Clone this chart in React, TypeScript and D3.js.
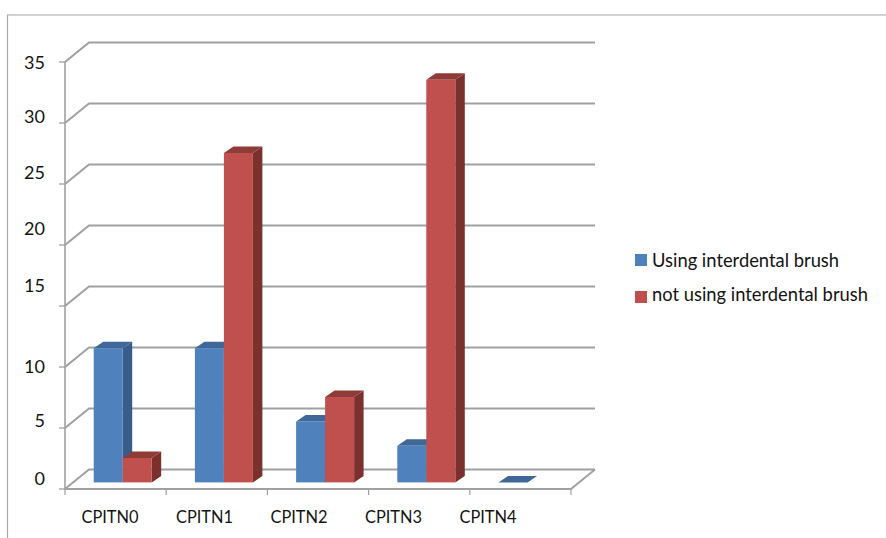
import React from "react";
import * as d3 from "d3";

const categories = ["CPITN0", "CPITN1", "CPITN2", "CPITN3", "CPITN4"];
const seriesNames = ["Using interdental brush", "not using interdental brush"];
const usingBrush = [11, 11, 5, 3, 0];
const notUsingBrush = [2, 27, 7, 33, null];
const yTicks = [0, 5, 10, 15, 20, 25, 30, 35];

// Layout only: the reference's tick labels are not aligned with their ticks.
const tickLabelCentres: Record<number, number> = { 0: 478.5, 5: 420.5, 10: 366, 15: 285, 20: 228, 25: 172, 30: 116, 35: 62 };

const frontColors = ["#4f81bd", "#c0504d"];
const sideColors = ["#385d8a", "#7c302e"];
const topColors = ["#3f6797", "#8f3b38"];
const GRID = "#a0a0a0";
const TEXT = "#141414";
const FONT = "Lato, Carlito, Calibri, sans-serif";

const x = d3.scaleBand<string>().domain(categories).range([65, 571]);
const y = d3.scaleLinear().domain([0, 35]).range([489, 62]);
const seriesX = d3.scaleBand<string>().domain(seriesNames).range([28.7, 86.7]);
const labelX = d3.scalePoint<string>().domain(categories).range([110, 488]);

const depthX = 24;
const depthY = -19.5;
const barLift = -6.6;
const barDepthX = 9.5;
const barDepthY = -6.5;

const poly = (pts: number[][]) => pts.map((p) => p.join(",")).join(" ");

export default function App() {
  const series = [usingBrush, notUsingBrush];
  const x0 = x.range()[0];
  const x1 = x.range()[1];
  const unit = y(0) - y(1);
  return (
    <svg
      width={886}
      height={538}
      style={{ position: "absolute", left: 0, top: 0, background: "#fff", fontFamily: FONT }}
    >
      <path d="M7.5,538 V15 H886" fill="none" stroke="#a8a8a8" strokeWidth={1.2} />

      {yTicks.map((t) => (
        <g key={t}>
          <polyline
            points={poly([[x0, y(t)], [x0 + depthX, y(t) + depthY], [x1 + depthX, y(t) + depthY]])}
            fill="none"
            stroke={GRID}
            strokeWidth={2}
          />
          <line x1={x0 - 6} x2={x0} y1={y(t)} y2={y(t)} stroke={GRID} strokeWidth={1.3} />
          <text x={45} y={tickLabelCentres[t] + 6.5} textAnchor="end" fontSize={18} fill={TEXT}>
            {t}
          </text>
        </g>
      ))}

      <line x1={x0} x2={x0} y1={y(35)} y2={y(0)} stroke={GRID} strokeWidth={1.6} />
      <line x1={x0} x2={x1} y1={y(0)} y2={y(0)} stroke={GRID} strokeWidth={2} />
      <line x1={x1} x2={x1 + depthX} y1={y(0)} y2={y(0) + depthY} stroke={GRID} strokeWidth={2} />
      {[...categories.map((c) => x(c) as number), x1].map((t) => (
        <line key={t} x1={t} x2={t} y1={y(0)} y2={y(0) + 6} stroke={GRID} strokeWidth={1.2} />
      ))}

      {categories.map((c, i) =>
        series.map((vals, s) => {
          const v = vals[i];
          if (v === null) return null;
          const left = (x(c) as number) + (seriesX(seriesNames[s]) as number);
          const right = left + seriesX.bandwidth();
          const base = y(0) + barLift;
          const top = base - v * unit;
          return (
            <g key={c + s}>
              <polygon
                points={poly([[right, base], [right + barDepthX, base + barDepthY], [right + barDepthX, top + barDepthY], [right, top]])}
                fill={sideColors[s]}
              />
              <polygon
                points={poly([[left, top], [left + barDepthX, top + barDepthY], [right + barDepthX, top + barDepthY], [right, top]])}
                fill={topColors[s]}
              />
              <rect x={left} y={top} width={right - left} height={v * unit} fill={frontColors[s]} />
            </g>
          );
        })
      )}

      {categories.map((c) => (
        <text key={c} x={labelX(c)} y={523} textAnchor="middle" fontSize={16.4} fill={TEXT}>
          {c}
        </text>
      ))}

      {seriesNames.map((n, s) => (
        <g key={n}>
          <rect x={635} y={254 + s * 37} width={12} height={12} fill={frontColors[s]} />
          <text x={652} y={267 + s * 33.5} fontSize={18.35} fill={TEXT}>
            {n}
          </text>
        </g>
      ))}
    </svg>
  );
}
